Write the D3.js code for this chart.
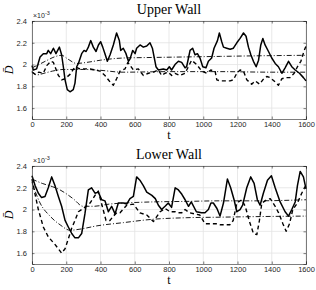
<!DOCTYPE html>
<html><head><meta charset="utf-8">
<script src="https://cdn.jsdelivr.net/npm/d3@7"></script>
<style>body{margin:0;background:#fff}svg{display:block}</style>
</head><body>
<svg id="c" width="316" height="290"></svg>
<script>
const xTicks = [0,200,400,600,800,1000,1200,1400,1600];
const yTicks = [1.6,1.8,2,2.2,2.4];
const yTickLabels = ["1.6","1.8","2","2.2","2.4"];
const titles = ["Upper Wall","Lower Wall"];

// Upper wall
const upSolidT = [0,8,27,47,66,86,95,109,125,140,160,173,183,193,206,222,241,251,261,271,290,304,316,329,343,358,374,388,401,413,426,440,456,475,494,510,518,533,549,563,572,588,602,611,631,650,670,689,703,713,724,738,767,787,802,815,835,855,874,894,903,923,938,952,966,981,997,1016,1030,1049,1063,1083,1094,1108,1118,1137,1157,1176,1196,1215,1235,1250,1264,1278,1293,1309,1323,1336,1348,1361,1381,1400,1420,1439,1459,1478,1498,1517,1537,1562,1585,1600];
const upSolidV = [1.99,1.95,1.96,2.07,2.10,2.10,2.13,2.10,2.15,2.10,2.16,2.09,1.98,1.86,1.77,1.75,1.77,1.83,1.98,2.01,2.10,2.13,2.12,2.16,2.22,2.16,2.12,2.18,2.21,2.16,2.10,2.03,2.09,2.18,2.29,2.22,2.13,2.15,2.10,2.03,2.05,2.13,2.10,2.15,2.18,2.16,2.17,2.20,2.15,2.07,1.98,1.95,1.96,1.95,1.98,1.95,2.00,2.03,2.02,1.97,1.98,2.13,2.15,2.09,2.10,2.06,1.98,1.97,2.03,2.06,2.15,2.22,2.29,2.21,2.16,2.15,2.14,2.15,2.20,2.24,2.29,2.26,2.16,2.09,2.03,1.98,2.04,2.18,2.24,2.18,2.12,2.06,2.01,1.98,1.92,1.97,2.03,1.98,1.95,1.92,1.88,1.85];
const upDashT = [0,20,40,66,86,110,125,154,173,193,222,251,280,309,339,368,397,426,456,475,494,514,543,560,592,621,650,680,709,738,757,777,796,816,835,864,894,913,932,962,991,1020,1044,1069,1079,1098,1127,1157,1176,1196,1215,1235,1254,1283,1303,1329,1348,1371,1391,1420,1439,1459,1484,1507,1531,1550,1570,1590,1600];
const upDashV = [1.93,1.91,1.93,1.92,1.99,2.03,2.02,1.90,1.86,1.87,1.91,1.98,1.96,1.96,1.96,1.95,1.94,1.90,1.84,1.81,1.87,1.94,1.96,2.02,1.95,1.96,1.90,1.92,1.93,1.95,1.90,1.92,1.93,1.90,1.92,1.90,1.92,1.98,2.04,2.00,1.94,1.92,1.95,1.94,1.86,1.85,1.85,1.85,1.86,1.92,1.95,1.94,1.86,1.82,1.85,1.82,1.86,1.89,1.88,1.84,1.81,1.87,1.88,1.88,1.92,1.98,2.03,2.13,2.17];
const upDdAT = [0,40,90,130,173,210,261,320,400,532,700,900,1100,1300,1600];
const upDdAV = [1.97,2.00,2.04,2.07,2.085,2.05,2.01,2.02,2.04,2.06,2.065,2.07,2.075,2.08,2.085];
const upDdBT = [0,27,70,120,183,300,378,532,800,1100,1400,1600];
const upDdBV = [1.935,1.905,1.92,1.94,1.955,1.955,1.95,1.93,1.935,1.935,1.93,1.93];

// Lower wall
const loSolidT = [0,18,37,56,76,95,115,134,154,173,193,212,232,251,271,290,309,329,348,368,387,407,426,446,465,485,504,534,553,572,592,611,630,650,670,700,720,738,757,777,796,815,836,855,875,894,914,930,960,990,1010,1030,1045,1059,1080,1098,1118,1141,1160,1180,1196,1215,1230,1254,1277,1297,1316,1332,1351,1375,1398,1420,1449,1478,1498,1517,1537,1550,1566,1585,1600];
const loSolidV = [2.31,2.22,2.15,2.11,2.12,2.20,2.30,2.22,2.12,2.03,1.90,1.84,1.78,1.74,1.74,1.78,1.96,2.18,2.20,2.15,2.16,2.09,2.08,1.98,2.03,1.96,2.06,2.06,2.05,2.10,2.12,2.30,2.27,2.22,2.16,2.13,2.10,2.04,2.00,2.03,2.06,2.02,2.20,2.18,2.14,2.09,2.03,2.07,1.98,1.97,1.97,2.00,2.06,2.06,2.01,1.94,2.06,2.28,2.20,2.09,1.98,2.00,2.04,2.20,2.30,2.24,2.09,2.04,2.15,2.27,2.31,2.20,2.07,1.98,1.94,2.00,2.07,2.22,2.35,2.30,2.19];
const loDashT = [0,18,37,66,95,134,173,193,212,232,251,271,290,309,339,368,387,407,432,456,475,495,514,553,592,630,670,709,748,777,806,835,855,875,894,920,950,980,1010,1040,1060,1080,1100,1130,1155,1175,1196,1225,1245,1270,1293,1313,1328,1342,1371,1391,1420,1440,1465,1484,1504,1523,1550,1575,1595,1600];
const loDashV = [2.28,2.14,2.00,1.84,1.75,1.68,1.60,1.64,1.73,1.83,1.90,1.98,2.00,2.02,2.06,2.13,2.17,2.05,1.90,1.90,1.94,1.97,1.97,2.04,2.05,1.97,1.95,1.89,1.98,2.01,1.98,1.98,1.97,1.97,2.00,1.97,1.96,1.95,1.87,1.87,1.87,1.87,1.86,1.86,1.86,1.90,2.06,2.09,2.03,1.89,1.78,1.77,1.90,2.06,2.09,2.10,2.03,1.97,1.87,1.80,1.87,2.00,2.06,2.15,2.21,2.20];
const loDdAT = [0,60,120,164,240,298,360,450,537,700,900,1100,1300,1600];
const loDdAV = [2.28,2.24,2.21,2.18,2.10,2.03,2.03,2.05,2.06,2.07,2.075,2.08,2.08,2.09];
const loDdBT = [0,47,105,164,222,280,378,534,700,900,1100,1300,1600];
const loDdBV = [2.25,2.06,1.94,1.86,1.81,1.82,1.85,1.88,1.91,1.925,1.93,1.935,1.94];

const panels = [
  {top:21, series:[[upSolidT,upSolidV],[upDashT,upDashV],[upDdAT,upDdAV],[upDdBT,upDdBV]]},
  {top:166, series:[[loSolidT,loSolidV],[loDashT,loDashV],[loDdAT,loDdAV],[loDdBT,loDdBV]]}
];
const styles = [
  {w:1.5, dash:null},
  {w:1.4, dash:"4,3"},
  {w:0.9, dash:"5,2,1,2"},
  {w:0.9, dash:"5,2,1,2"}
];

const svg = d3.select("#c");
const L = 32, R = 306, H = 98;
const x = d3.scaleLinear().domain([0,1600]).range([L,R]);

panels.forEach((p,pi)=>{
  const y = d3.scaleLinear().domain([1.5,2.4]).range([p.top+H,p.top]);
  const g = svg.append("g");
  g.selectAll(".gx").data(xTicks).enter().append("line")
    .attr("x1",d=>x(d)).attr("x2",d=>x(d)).attr("y1",p.top).attr("y2",p.top+H)
    .attr("stroke","#e3e3e3").attr("stroke-width",0.8);
  g.selectAll(".gy").data(yTicks).enter().append("line")
    .attr("x1",L).attr("x2",R).attr("y1",d=>y(d)).attr("y2",d=>y(d))
    .attr("stroke","#e3e3e3").attr("stroke-width",0.8);
  p.series.forEach((s,si)=>{
    const pts = s[0].map((t,i)=>[t,s[1][i]]);
    const line = d3.line().x(d=>x(d[0])).y(d=>y(d[1])).curve(si>=2?d3.curveMonotoneX:d3.curveLinear);
    const path = g.append("path").datum(pts).attr("d",line)
      .attr("fill","none").attr("stroke","#000").attr("stroke-width",styles[si].w)
      .attr("stroke-linejoin","round");
    if(styles[si].dash) path.attr("stroke-dasharray",styles[si].dash);
  });
  const ax = g.append("g").attr("transform",`translate(0,${p.top+H})`)
    .call(d3.axisBottom(x).tickValues(xTicks).tickSize(-2.5).tickPadding(3).tickFormat(d3.format("d")));
  const axT = g.append("g").attr("transform",`translate(0,${p.top})`)
    .call(d3.axisTop(x).tickValues(xTicks).tickSize(-2.5).tickFormat(""));
  const ay = g.append("g").attr("transform",`translate(${L},0)`)
    .call(d3.axisLeft(y).tickValues(yTicks).tickSize(-2.5).tickPadding(5).tickFormat((d,i)=>yTickLabels[i]));
  const ayR = g.append("g").attr("transform",`translate(${R},0)`)
    .call(d3.axisRight(y).tickValues(yTicks).tickSize(-2.5).tickFormat(""));
  [ax,axT,ay,ayR].forEach(a=>{
    a.selectAll("path").attr("stroke","#262626").attr("stroke-width",0.6);
    a.selectAll("line").attr("stroke","#262626").attr("stroke-width",0.6);
    a.selectAll("text").attr("fill","#262626").attr("font-family","Liberation Sans, Arial, sans-serif").attr("font-size",7.5);
  });
  const ex = g.append("text").attr("x",L+1).attr("y",p.top-3)
    .attr("font-family","Liberation Sans, Arial, sans-serif").attr("font-size",7).attr("fill","#262626");
  ex.append("tspan").text("×10");
  ex.append("tspan").attr("dy",-3).attr("font-size",5.5).text("-3");
  g.append("text").attr("x",(L+R)/2).attr("y",p.top-7).attr("text-anchor","middle")
    .attr("font-family","Liberation Serif, serif").attr("font-size",14).attr("fill","#000").text(titles[pi]);
  g.append("text").attr("x",(L+R)/2).attr("y",p.top+H+20).attr("text-anchor","middle")
    .attr("font-family","Liberation Serif, serif").attr("font-size",12).attr("fill","#000").text("t");
  g.append("text").attr("transform",`translate(13,${p.top+H/2}) rotate(-90)`).attr("text-anchor","middle")
    .attr("font-family","Liberation Serif, serif").attr("font-style","italic").attr("font-size",12).attr("fill","#000").text("D\u0304");
});
</script>
</body></html>
